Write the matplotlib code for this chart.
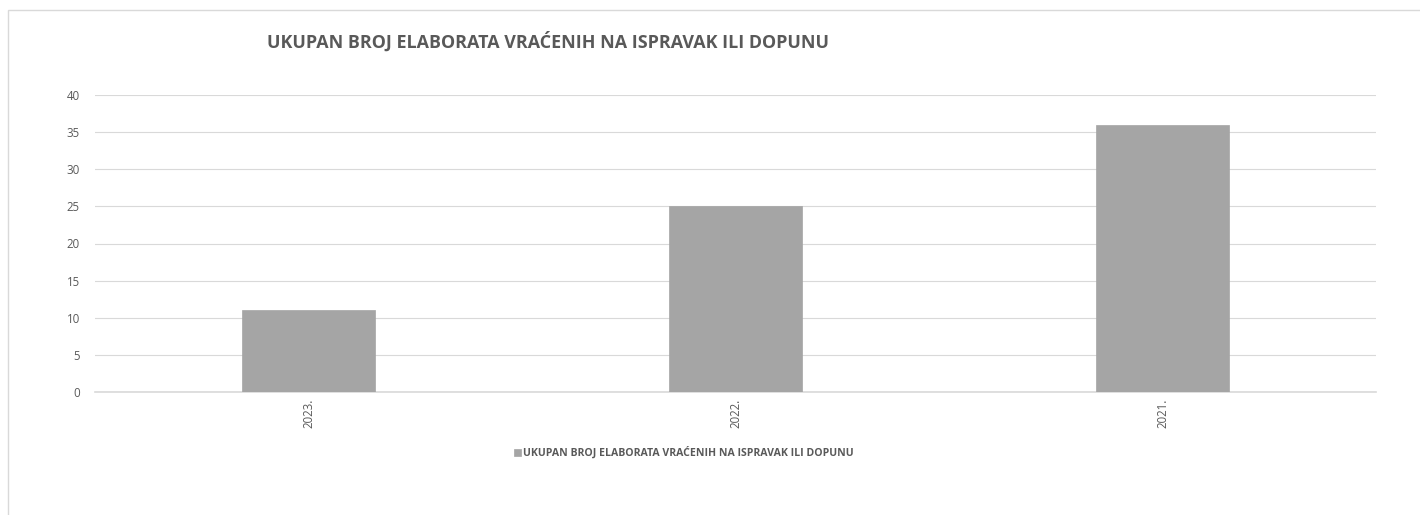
import matplotlib
matplotlib.use("Agg")
import matplotlib.pyplot as plt
from matplotlib.patches import Rectangle

plt.rcParams['font.family'] = ['Open Sans', 'DejaVu Sans']

categories = ["2023.", "2022.", "2021."]
values = [11, 25, 36]
series_name = "UKUPAN BROJ ELABORATA VRAĆENIH NA ISPRAVAK ILI DOPUNU"
title = "UKUPAN BROJ ELABORATA VRAĆENIH NA ISPRAVAK ILI DOPUNU"
yticks = [0, 5, 10, 15, 20, 25, 30, 35, 40]

W, H = 1420, 515
fig = plt.figure(figsize=(W / 100, H / 100), dpi=100)
fig.patch.set_facecolor("white")

# chart frame
fig.patches.append(Rectangle((8 / W, -0.05), 1.2, (H - 10) / H + 0.05,
                             transform=fig.transFigure, fill=False,
                             edgecolor="#d9d9d9", linewidth=1))

ax = fig.add_axes([95 / W, 1 - 392 / H, (1376 - 95) / W, (392 - 95) / H])
x = range(len(categories))
ax.bar(x, values, width=0.312, color="#a5a5a5", edgecolor="#a5a5a5",
       linewidth=0.5, zorder=3, label=series_name)
ax.set_xlim(-0.5, len(categories) - 0.5)
ax.set_ylim(0, 40)
ax.set_yticks(yticks)
ax.set_yticklabels([str(t) for t in yticks], fontsize=8.3, color="#595959")
ax.set_xticks(list(x))
ax.set_xticklabels(categories, rotation=90, fontsize=8.3, color="#595959")
ax.tick_params(axis="y", length=0, pad=11)
ax.tick_params(axis="x", length=0, pad=5)
ax.grid(axis="y", color="#d9d9d9", linewidth=0.8, zorder=0)
for s in ["top", "right", "left"]:
    ax.spines[s].set_visible(False)
ax.spines["bottom"].set_color("#d9d9d9")
ax.spines["bottom"].set_linewidth(1.2)
ax.set_facecolor("white")

fig.text(548 / W, 1 - 42 / H, title, ha="center", va="center",
         fontsize=12.9, fontweight="bold", color="#595959")

leg = fig.legend(loc="center", bbox_to_anchor=(684 / W, 1 - 453 / H),
                 frameon=False, fontsize=7.6, handlelength=0.6, handleheight=0.6,
                 handletextpad=0.25)
for t in leg.get_texts():
    t.set_color("#595959")
    t.set_fontweight("bold")

fig.savefig("out.png", dpi=100, facecolor="white")
